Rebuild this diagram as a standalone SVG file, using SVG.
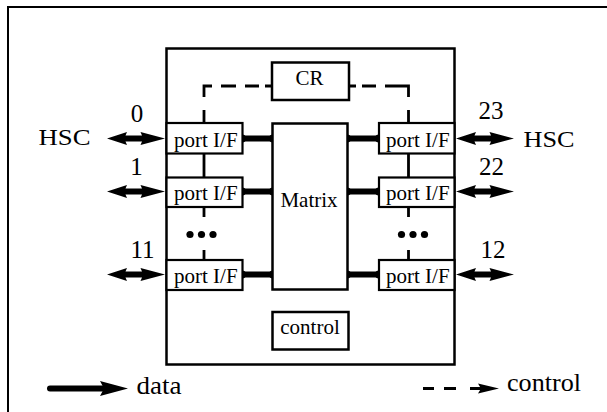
<svg xmlns="http://www.w3.org/2000/svg" xmlns:xlink="http://www.w3.org/1999/xlink" width="607" height="412" viewBox="0 0 607 412" font-family="'Liberation Serif','Times New Roman',serif">
<style>
text{font-family:"Liberation Serif","Times New Roman",serif;fill:#000}
.box{fill:#fff;stroke:#000;stroke-width:2.5}
.port{fill:#fff;stroke:#000;stroke-width:2.2}
.lbl{font-size:21px}
.num{font-size:25px;text-anchor:middle}
.hsc{font-size:24px}
.leg{font-size:26px}
.data{stroke:#000;stroke-width:6;fill:none}
.ctl{stroke:#000;stroke-width:2.8;fill:none}
.dot{fill:#000}
</style>
<defs>
<path id="dbl" d="M0,0 L20,-6.5 L18.5,-3 L35,-3 L33.5,-6.5 L58,0 L33.5,6.5 L35,3 L18.5,3 L20,6.5 Z" fill="#000"/>
</defs>
<rect width="607" height="412" fill="#fff"/>
<path d="M8,412 V7 H607" fill="none" stroke="#000" stroke-width="2"/>

<g id="switch"><rect class="box" x="166.5" y="48.5" width="288" height="316"/></g>

<g id="connectors">
  <path class="ctl" d="M204,97 V86 H212 M221,86 H236 M245,86 H259 M265,86 H272 M204,110 V123"/>
  <path class="ctl" d="M349,86 H356 M362,86 H376 M385,86 H400 M408.5,97 V86 H400 M408.5,110 V123"/>
  <path class="ctl" d="M204,153 V177 M204,207 V217 M204,250 V260"/>
  <path class="ctl" d="M408.5,153 V177 M408.5,207 V217 M408.5,250 V260"/>
  <path class="data" d="M242,138.5 H273 M242,191.5 H273 M242,274.5 H273 M347,138.5 H379 M347,191.5 H379 M347,274.5 H379"/>
  <g class="dot">
    <circle cx="242" cy="138.5" r="4"/><circle cx="273" cy="138.5" r="4"/>
    <circle cx="242" cy="191.5" r="4"/><circle cx="273" cy="191.5" r="4"/>
    <circle cx="242" cy="274.5" r="4"/><circle cx="273" cy="274.5" r="4"/>
    <circle cx="347" cy="138.5" r="4"/><circle cx="379" cy="138.5" r="4"/>
    <circle cx="347" cy="191.5" r="4"/><circle cx="379" cy="191.5" r="4"/>
    <circle cx="347" cy="274.5" r="4"/><circle cx="379" cy="274.5" r="4"/>
  </g>
  <use xlink:href="#dbl" transform="translate(107,138.5)"/>
  <use xlink:href="#dbl" transform="translate(107,191.5)"/>
  <use xlink:href="#dbl" transform="translate(107,274.5)"/>
  <use xlink:href="#dbl" transform="translate(456,138.5)"/>
  <use xlink:href="#dbl" transform="translate(456,191.5)"/>
  <use xlink:href="#dbl" transform="translate(456,274.5)"/>
</g>

<g id="cr"><rect class="box" x="272" y="62.5" width="77" height="37.5"/><text class="lbl" x="309.5" y="85" text-anchor="middle">CR</text></g>
<g id="matrix"><rect class="box" x="272.5" y="123.5" width="75" height="166"/><text class="lbl" x="309" y="206.5" text-anchor="middle">Matrix</text></g>
<g id="control"><rect class="box" x="272.5" y="312" width="76" height="37.5"/><text class="lbl" x="310" y="333.5" text-anchor="middle">control</text></g>

<g id="port0"><rect class="port" x="166.5" y="123" width="76" height="30.5"/><text class="lbl" x="174" y="147">port I/F</text></g>
<g id="port1"><rect class="port" x="166.5" y="177.5" width="76" height="29.5"/><text class="lbl" x="174" y="200">port I/F</text></g>
<g id="port11"><rect class="port" x="166.5" y="260" width="76" height="30"/><text class="lbl" x="174" y="283">port I/F</text></g>
<g id="port23"><rect class="port" x="379" y="123" width="75.5" height="30.5"/><text class="lbl" x="386" y="147">port I/F</text></g>
<g id="port22"><rect class="port" x="379" y="177.5" width="75.5" height="29.5"/><text class="lbl" x="386" y="200">port I/F</text></g>
<g id="port12"><rect class="port" x="379" y="260" width="75.5" height="30"/><text class="lbl" x="386" y="283">port I/F</text></g>

<g id="dots-left" class="dot"><circle cx="190" cy="234.5" r="3.6"/><circle cx="201.5" cy="234.5" r="3.6"/><circle cx="213" cy="234.5" r="3.6"/></g>
<g id="dots-right" class="dot"><circle cx="401.5" cy="234.5" r="3.6"/><circle cx="413" cy="234.5" r="3.6"/><circle cx="424.5" cy="234.5" r="3.6"/></g>

<g id="labels">
  <text class="hsc" x="38.5" y="144.5" textLength="52" lengthAdjust="spacingAndGlyphs">HSC</text>
  <text class="hsc" x="523.5" y="147" textLength="51" lengthAdjust="spacingAndGlyphs">HSC</text>
  <text class="num" x="137" y="122">0</text>
  <text class="num" x="136.5" y="175">1</text>
  <text class="num" x="142.5" y="258">11</text>
  <text class="num" x="491" y="119">23</text>
  <text class="num" x="491.5" y="175">22</text>
  <text class="num" x="493" y="258">12</text>
</g>

<g id="legend">
  <path d="M50,388.5 H104" stroke="#000" stroke-width="6" stroke-linecap="round"/>
  <path d="M100,381 L128,388.5 L100,396 L104,388.5 Z" fill="#000"/>
  <text class="leg" x="136.5" y="393.5" textLength="45" lengthAdjust="spacingAndGlyphs">data</text>
  <path d="M423,388.5 H434 M444,388.5 H456 M470,388.5 H482" stroke="#000" stroke-width="3" fill="none"/>
  <path d="M478,383.5 L499,388.5 L478,393.5 L481,388.5 Z" fill="#000"/>
  <text class="leg" x="507" y="390.5" textLength="74" lengthAdjust="spacingAndGlyphs">control</text>
</g>
</svg>
